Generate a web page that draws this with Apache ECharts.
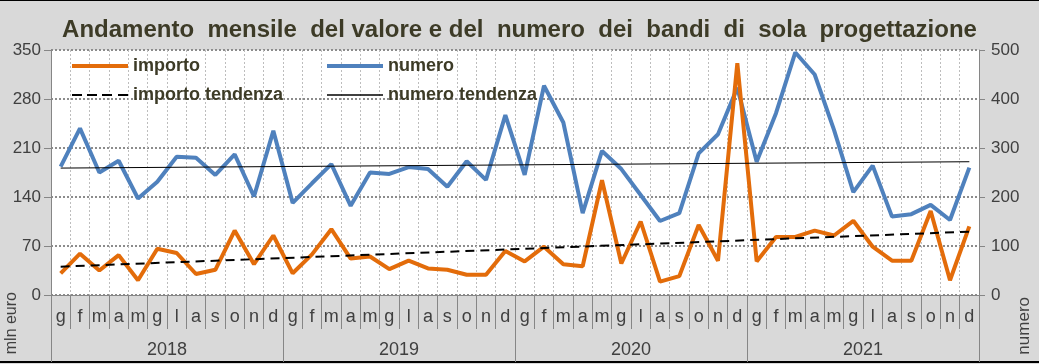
<!DOCTYPE html>
<html>
<head>
<meta charset="utf-8">
<script src="https://cdn.jsdelivr.net/npm/echarts@6/dist/echarts.min.js"></script>
<style>
html,body{margin:0;padding:0;background:#fff;}
#c{width:1039px;height:364px;}
</style>
</head>
<body>
<div id="c"></div>
<script>
const months = ['g','f','m','a','m','g','l','a','s','o','n','d',
                'g','f','m','a','m','g','l','a','s','o','n','d',
                'g','f','m','a','m','g','l','a','s','o','n','d',
                'g','f','m','a','m','g','l','a','s','o','n','d'];
const years = ['2018','2019','2020','2021'];
const importo = [31, 59, 35, 57, 21, 66, 60, 30, 36, 92, 44, 85,
                 31, 58, 94, 52, 55, 37, 49, 38, 36, 29, 29, 63,
                 48, 69, 44, 41, 164, 45, 105, 19, 27, 100, 49, 331,
                 48, 83, 83, 92, 85, 106, 69, 49, 49, 120, 21, 98];
const numero = [262, 340, 250, 274, 197, 231, 282, 280, 245, 287, 201, 335,
                188, 228, 267, 182, 250, 247, 261, 257, 221, 273, 235, 367,
                245, 427, 352, 167, 294, 257, 204, 151, 167, 289, 328, 423,
                272, 371, 495, 450, 337, 210, 264, 160, 165, 184, 153, 260];
// trend lines: values read at first and last month
const importoTrendEnds = [40.5, 90.5];
const numeroTrendEnds = [259, 272];
const leftTicks = [0, 70, 140, 210, 280, 350];
const rightTicks = [0, 100, 200, 300, 400, 500];

function endsToSeries(ends, n) {
  const arr = new Array(n).fill(null);
  arr[0] = ends[0];
  arr[n - 1] = ends[1];
  return arr;
}

const FONT = '"Liberation Sans", Arial, sans-serif';
const TXT = '#404040';
const TITLE = '#3d3b27';
const ORANGE = '#e36c0a';
const BLUE = '#4f81bd';

const ICON_SOLID = 'path://M0,0H56V4H0Z';
const ICON_DASH = 'path://M0,0H10V2H0Z M15,0H25V2H15Z M30,0H40V2H30Z M46,0H56V2H46Z';
const ICON_THIN = 'path://M0,0H56V1.6H0Z';

const legendText = {fontFamily: FONT, fontSize: 18, fontWeight: 'bold', color: TITLE};

const chart = echarts.init(document.getElementById('c'), null, {renderer: 'canvas'});
chart.setOption({
  backgroundColor: '#d9d9d9',
  animation: false,
  textStyle: {fontFamily: FONT},
  title: {
    text: 'Andamento  mensile  del valore e del  numero  dei  bandi  di  sola  progettazione',
    left: 'center', top: 13,
    textStyle: {fontFamily: FONT, fontSize: 24, fontWeight: 'bold', color: TITLE}
  },
  grid: {left: 51, right: 60, top: 50, bottom: 69, show: true, backgroundColor: '#ffffff', borderWidth: 0, containLabel: false},
  legend: [
    {
      left: 72, top: 57, padding: 0, orient: 'vertical', itemWidth: 56, itemHeight: 14, itemGap: 11,
      symbolKeepAspect: true, itemStyle: {borderWidth: 0},
      data: [{name: 'importo', icon: ICON_SOLID}, {name: 'importo tendenza', icon: ICON_DASH}],
      textStyle: legendText, selectedMode: false
    },
    {
      left: 327, top: 57, padding: 0, orient: 'vertical', itemWidth: 56, itemHeight: 14, itemGap: 11,
      symbolKeepAspect: true, itemStyle: {borderWidth: 0},
      data: [{name: 'numero', icon: ICON_SOLID}, {name: 'numero tendenza', icon: ICON_THIN}],
      textStyle: legendText, selectedMode: false
    }
  ],
  xAxis: [
    {
      type: 'category', data: months, position: 'bottom', boundaryGap: true,
      axisLine: {show: true, lineStyle: {color: '#868686', width: 1}},
      axisTick: {show: true, interval: 0, length: 34, lineStyle: {color: '#868686', width: 1}},
      axisLabel: {interval: 0, fontSize: 18, color: TXT, margin: 13, fontFamily: FONT},
      splitLine: {show: true, interval: 0, lineStyle: {color: '#bdbdbd', width: 1, type: [2, 2]}}
    },
    {
      type: 'category', data: years, position: 'bottom', boundaryGap: true,
      axisLine: {show: false},
      axisTick: {show: true, interval: 0, length: 67, lineStyle: {color: '#868686', width: 1}},
      axisLabel: {interval: 0, fontSize: 18, color: TXT, margin: 46, fontFamily: FONT},
      splitLine: {show: false}
    }
  ],
  yAxis: [
    {
      type: 'value', min: leftTicks[0], max: leftTicks[leftTicks.length - 1], interval: 70, position: 'left',
      axisLine: {show: true, lineStyle: {color: '#868686', width: 1}},
      axisTick: {show: true, length: 7, lineStyle: {color: '#868686'}},
      axisLabel: {fontSize: 17, color: TXT, margin: 10, fontFamily: FONT},
      splitLine: {show: true, lineStyle: {color: '#8c8c8c', width: 2, type: [2, 2]}}
    },
    {
      type: 'value', min: rightTicks[0], max: rightTicks[rightTicks.length - 1], interval: 100, position: 'right',
      axisLine: {show: true, lineStyle: {color: '#868686', width: 1}},
      axisTick: {show: true, length: 6, lineStyle: {color: '#868686'}},
      axisLabel: {fontSize: 17, color: TXT, margin: 12, fontFamily: FONT},
      splitLine: {show: false}
    }
  ],
  series: [
    {
      name: 'importo', type: 'line', xAxisIndex: 0, yAxisIndex: 0, data: importo,
      symbol: 'none', lineStyle: {color: ORANGE, width: 4}, itemStyle: {color: ORANGE}, z: 4
    },
    {
      name: 'numero', type: 'line', xAxisIndex: 0, yAxisIndex: 1, data: numero,
      symbol: 'none', lineStyle: {color: BLUE, width: 4}, itemStyle: {color: BLUE}, z: 3
    },
    {
      name: 'importo tendenza', type: 'line', xAxisIndex: 0, yAxisIndex: 0,
      data: endsToSeries(importoTrendEnds, months.length), connectNulls: true,
      symbol: 'none', lineStyle: {color: '#000', width: 2, type: [9, 6]}, itemStyle: {color: '#000'}, z: 5
    },
    {
      name: 'numero tendenza', type: 'line', xAxisIndex: 0, yAxisIndex: 1,
      data: endsToSeries(numeroTrendEnds, months.length), connectNulls: true,
      symbol: 'none', lineStyle: {color: '#000', width: 1}, itemStyle: {color: '#000'}, z: 5
    }
  ],
  graphic: [
    {type: 'text', left: 4, top: 292, rotation: Math.PI / 2,
     style: {text: 'mln euro', fontSize: 16, fontFamily: FONT, fill: TXT}},
    {type: 'text', left: 1016, top: 297, rotation: Math.PI / 2,
     style: {text: 'numero', fontSize: 17, fontFamily: FONT, fill: TXT}},
    {type: 'rect', shape: {x: 0, y: 0, width: 1039, height: 1}, style: {fill: '#000'}, silent: true},
    {type: 'rect', shape: {x: 0, y: 361, width: 1039, height: 2}, style: {fill: '#000'}, silent: true}
  ]
});
</script>
</body>
</html>
